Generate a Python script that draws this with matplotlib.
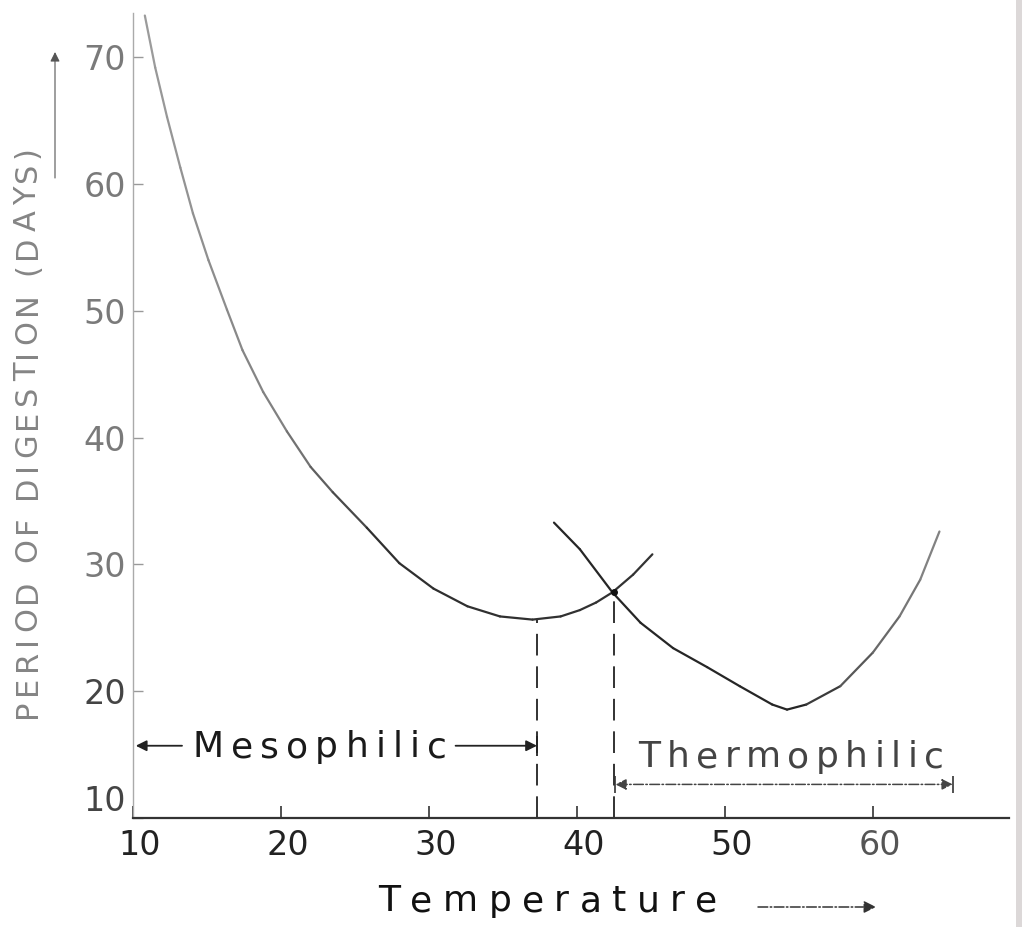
import numpy as np
import matplotlib.pyplot as plt
from matplotlib.collections import LineCollection
from matplotlib.patches import Rectangle
from matplotlib.transforms import IdentityTransform, ScaledTranslation

# Digestion period vs temperature, two bacterial regimes
meso_temp = [10.8, 11.5, 12.3, 13.2, 14.05, 15.1, 16.35, 17.4, 18.8, 20.4, 22.0, 23.5,
             25.8, 28.0, 30.3, 32.6, 34.8, 37.0, 38.9, 40.2, 41.3, 42.4, 43.8, 45.1]
meso_days = [73.3, 69.2, 65.3, 61.3, 57.7, 54.0, 50.1, 46.9, 43.6, 40.5, 37.7, 35.7,
             32.9, 30.1, 28.1, 26.7, 25.9, 25.65, 25.9, 26.4, 27.0, 27.8, 29.2, 30.8]

thermo_temp = [38.45, 40.2, 42.4, 44.3, 46.5, 48.8, 51.0, 53.2, 54.2, 55.5, 57.8, 60.0, 61.8, 63.2, 64.5]
thermo_days = [33.3, 31.2, 27.8, 25.4, 23.4, 21.9, 20.4, 18.95, 18.55, 18.95, 20.4, 23.05, 25.9, 28.8, 32.6]

meso_opt = (37.3, 25.65)     # optimum of mesophilic curve
cross_pt = (42.5, 27.8)      # where the two curves meet
meso_range = (10, 37.3)
thermo_range = (42.6, 65.4)

x_ticks = [10, 20, 30, 40, 50, 60]
y_ticks = [10, 20, 30, 40, 50, 60, 70]

W, H = 1022, 927
fig = plt.figure(figsize=(W / 100, H / 100), dpi=100)
fig.patch.set_facecolor('white')
ax = fig.add_axes([133 / W, 1 - 818 / H, (1009 - 133) / W, (818 - 13) / H])
ax.set_xlim(10, 69.2)
ax.set_ylim(10, 73.5)

# scan shadow at right page edge
fig.patches.append(Rectangle((1016 / W, 0), 6 / W, 1, transform=fig.transFigure,
                             facecolor='#dcd8d8', edgecolor='none'))


def faded_line(x, y, grey_x, grey_v, lw=1.6):
    # polyline whose grey level changes along x (the scan is lighter in places)
    pts = np.column_stack([x, y])
    segs = np.stack([pts[:-1], pts[1:]], axis=1)
    mid = (pts[:-1, 0] + pts[1:, 0]) / 2
    g = np.interp(mid, grey_x, grey_v)
    lc = LineCollection(segs, colors=[(v, v, v) for v in g], linewidths=lw,
                        capstyle='round', joinstyle='round')
    ax.add_collection(lc)


faded_line(meso_temp, meso_days, [10, 20, 27, 45], [0.62, 0.5, 0.18, 0.2])
faded_line(thermo_temp, thermo_days, [38, 55, 59, 65], [0.15, 0.15, 0.35, 0.55])
ax.plot(*cross_pt, 'o', color='#111', ms=4)

# drop lines
ax.vlines(meso_opt[0], 10, meso_opt[1], colors='#222', lw=1.3, linestyles=(0, (12, 6)))
ax.vlines(cross_pt[0], 10, cross_pt[1], colors='#222', lw=1.3, linestyles=(0, (12, 6)))

# spines / ticks
for s in ['top', 'right']:
    ax.spines[s].set_visible(False)
ax.spines['left'].set_color('#aaaaaa')
ax.spines['left'].set_linewidth(1.0)
ax.spines['bottom'].set_color('#333333')
ax.spines['bottom'].set_linewidth(1.6)
ax.set_xticks(x_ticks)
ax.set_yticks(y_ticks)
ax.tick_params(axis='x', direction='in', length=9, width=1.2, color='#333', pad=8,
               labelsize=24, labelcolor='#222')
ax.tick_params(axis='y', direction='in', length=7, width=1.0, color='#999', pad=5,
               labelsize=24, labelcolor='#7a7a7a')
for lab in ax.get_yticklabels()[:2]:
    lab.set_color('#444')
ax.get_yticklabels()[0].set_va('bottom')
shift = ScaledTranslation(0.07, 0, fig.dpi_scale_trans)
for lab in ax.get_xticklabels():
    lab.set_transform(lab.get_transform() + shift)
ax.get_xticklabels()[-1].set_color('#555')

renderer = fig.canvas.get_renderer()


def spaced_text(px, py, s, size, track, color, rotation=0):
    # draw a string letter by letter with extra spacing (stencil lettering)
    for ch in s:
        if ch == ' ':
            step = size * 0.35
        else:
            t = fig.text(px, py, ch, transform=IdentityTransform(), fontsize=size, color=color,
                         rotation=rotation, rotation_mode='anchor', ha='left', va='baseline')
            bb = t.get_window_extent(renderer)
            step = bb.height if rotation else bb.width
        if rotation:
            py += step + track
        else:
            px += step + track


# Mesophilic range
y_m = 15.7
ax.annotate('', xy=(meso_range[0], y_m), xytext=(13.5, y_m),
            arrowprops=dict(arrowstyle='-|>', color='#222', lw=1.3, mutation_scale=16))
ax.annotate('', xy=(meso_range[1], y_m), xytext=(31.8, y_m),
            arrowprops=dict(arrowstyle='-|>', color='#222', lw=1.3, mutation_scale=16,
                            shrinkA=0, shrinkB=0))
ax.vlines(meso_range[1], y_m - 0.8, y_m + 0.8, colors='#222', lw=1.3)
x0, y0 = ax.transData.transform((14.0, 14.8))
spaced_text(x0, y0, 'Mesophilic', 26, 7.2, '#1a1a1a')

# Thermophilic range
y_t = 12.65
ax.annotate('', xy=(thermo_range[0], y_t), xytext=(thermo_range[1], y_t),
            arrowprops=dict(arrowstyle='<|-|>', color='#444', lw=1.1, mutation_scale=16,
                            linestyle='-.', shrinkA=0, shrinkB=0))
ax.vlines(thermo_range, y_t - 0.7, y_t + 0.7, colors='#333', lw=1.2)
x0, y0 = ax.transData.transform((44.15, 14.0))
spaced_text(x0, y0, 'Thermophilic', 26, 6.4, '#444')

# axis titles
spaced_text(378, H - 911, 'Temperature', 26, 10.4, '#111')
ax.annotate('', xy=(876, H - 907), xytext=(758, H - 907), xycoords='figure pixels',
            arrowprops=dict(arrowstyle='-|>', color='#333', lw=1.1, mutation_scale=18,
                            linestyle='-.', shrinkA=0, shrinkB=0))
spaced_text(36, H - 718, 'PERIOD OF DIGESTION (DAYS)', 22, 4.7, '#858585', rotation=90)
ax.annotate('', xy=(55, H - 52), xytext=(55, H - 178), xycoords='figure pixels',
            arrowprops=dict(arrowstyle='-|>', color='#555', lw=0.8, mutation_scale=14,
                            shrinkA=0, shrinkB=0))

fig.savefig('out.png', dpi=100)
